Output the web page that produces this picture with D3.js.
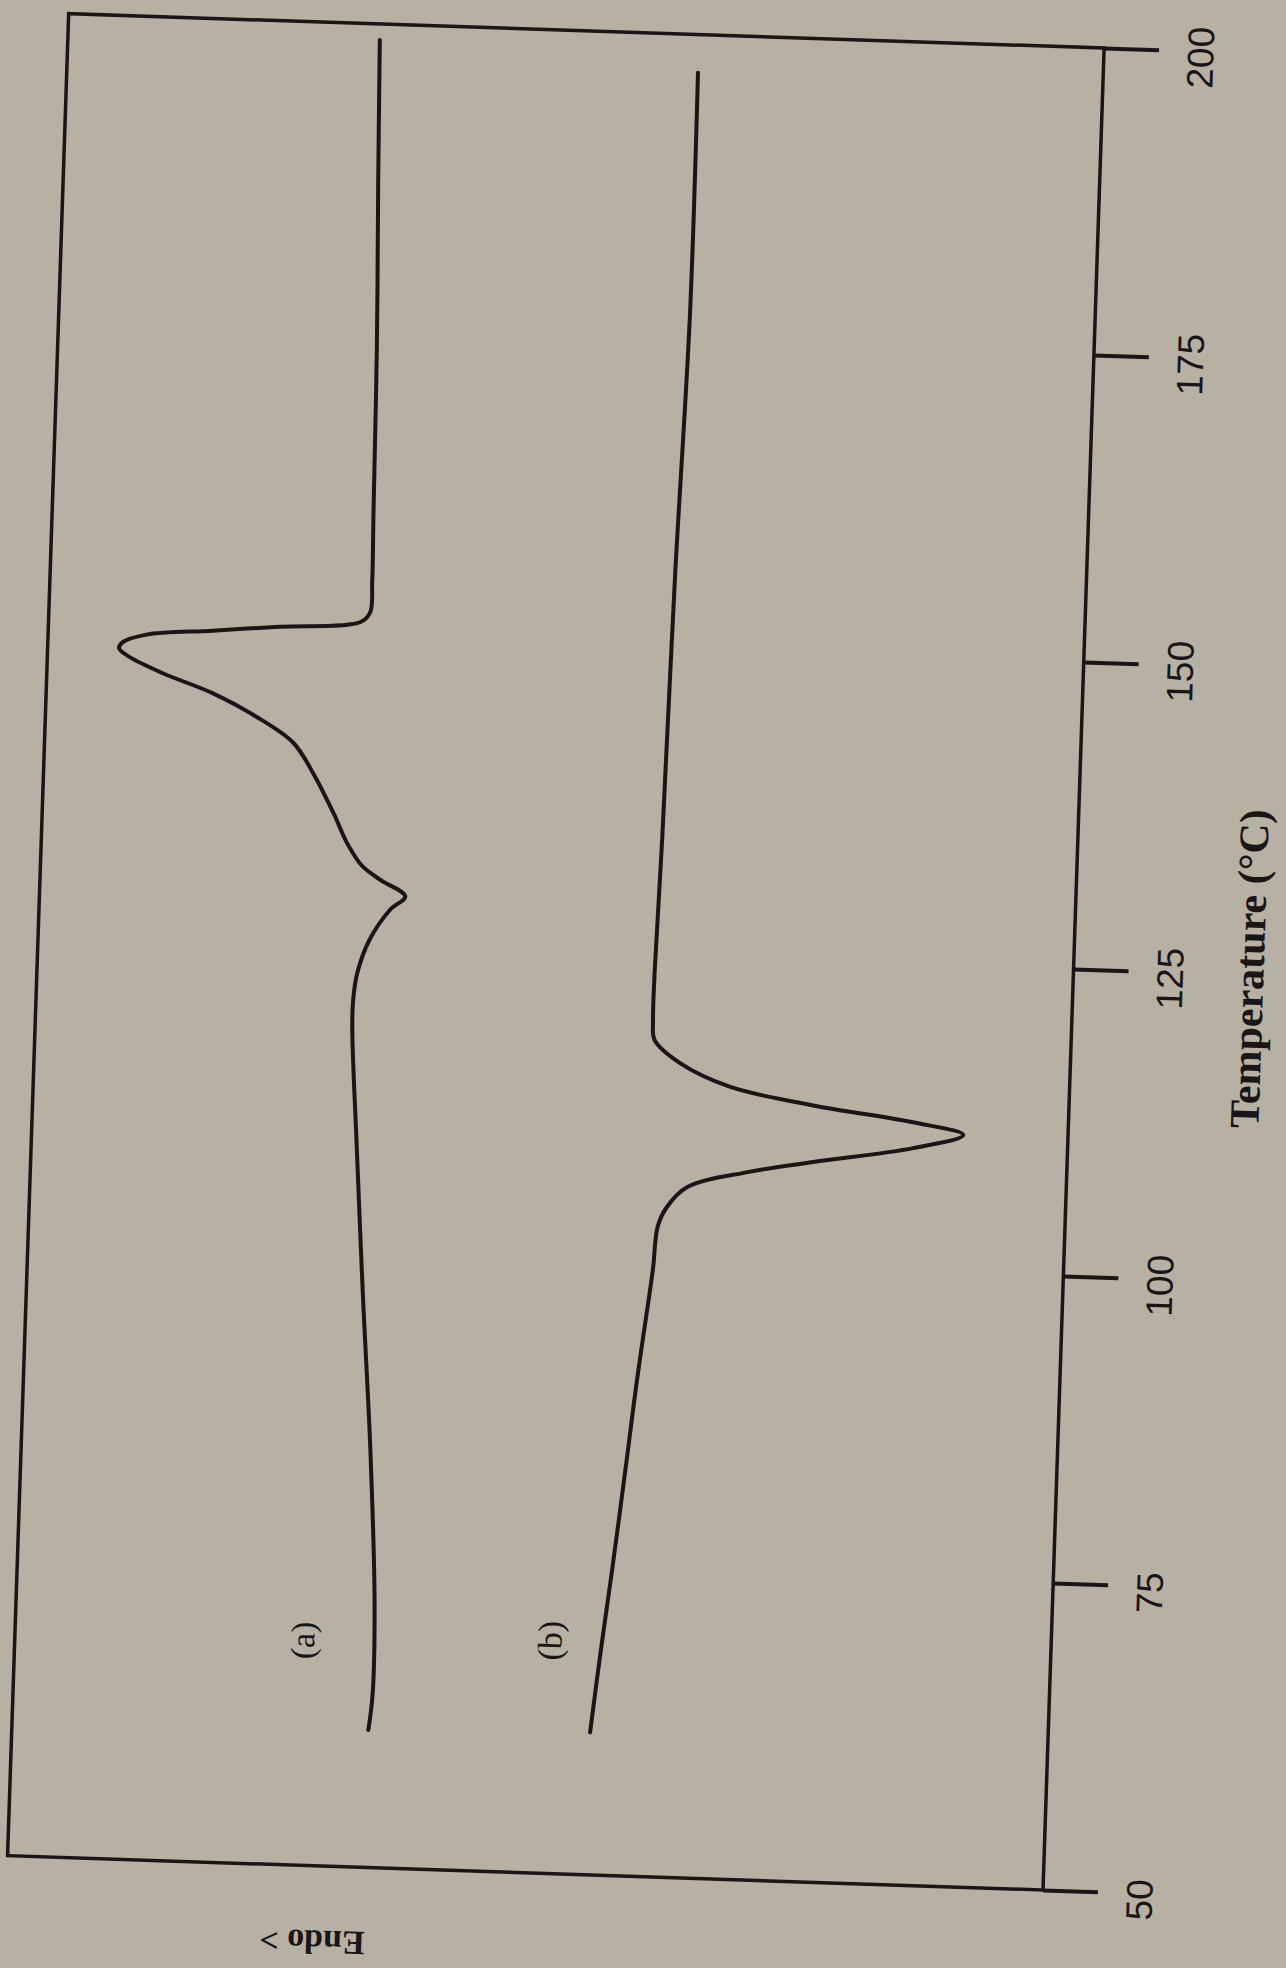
<!DOCTYPE html>
<html>
<head>
<meta charset="utf-8">
<script src="https://cdn.jsdelivr.net/npm/d3@7"></script>
<style>
  body { margin: 0; background: #b6b1a3; }
  svg { display: block; }
</style>
</head>
<body>
<svg id="dsc"></svg>
<script>
// temperature ticks (°C)
const tempTicks = [50, 75, 100, 125, 150, 175, 200];

// curve (a): temperature and heat flow (arbitrary units, endo to the left)
const tempA = [61.2, 64.1, 71.5, 84.0, 96.4, 108.8, 118.3, 120.5, 122.7, 125.5, 128.0, 129.1,
  130.4, 131.5, 133.3, 135.7, 138.9, 141.3, 143.3, 145.1, 146.6, 147.8, 148.5, 149.0, 149.7,
  150.2, 150.7, 151.3, 152.1, 154.7, 160.4, 173.7, 187.1, 198.7];
const heatA = [65.6, 65.3, 65.4, 66.3, 67.5, 68.6, 69.4, 69.4, 69.1, 68.0, 66.1, 64.7,
  67.2, 69.0, 70.5, 71.9, 74.0, 76.0, 79.6, 83.9, 88.8, 92.0, 93.1, 92.8, 90.5,
  84.1, 77.7, 69.9, 69.0, 68.9, 69.0, 69.2, 69.6, 69.9];

// curve (b)
const tempB = [61.6, 68.5, 74.8, 84.2, 90.4, 97.2, 99.6, 102.9, 104.5, 106.2, 107.6, 108.6,
  110.0, 111.2, 112.1, 113.2, 114.5, 116.3, 118.1, 119.6, 123.8, 134.5, 155.9, 177.3, 196.9];
const heatB = [44.2, 43.4, 42.6, 41.5, 40.8, 39.9, 39.6, 39.3, 38.5, 36.6, 30.8, 24.5,
  14.9, 10.1, 15.0, 24.7, 32.8, 37.7, 40.2, 40.4, 40.4, 40.1, 39.7, 39.1, 39.1];

const curveLabels = [
  { name: "(a)", x: 295, y: 1665 },
  { name: "(b)", x: 542, y: 1657 }
];

const W = 1286, H = 1968;
const axisX = 1043, y50 = 1890, axisLen = 1843, frameW = 1036;
const ink = "#1a1516";

const svg = d3.select("#dsc").attr("width", W).attr("height", H);
svg.append("rect").attr("width", W).attr("height", H).attr("fill", "#b6b1a3");

// whole figure is turned 90° and a little skewed on the scan
const g = svg.append("g").attr("transform", `rotate(1.9, ${axisX}, ${y50})`);

const yScale = d3.scaleLinear().domain([50, 200]).range([y50, y50 - axisLen]);
const xScale = d3.scaleLinear().domain([0, 100]).range([axisX, axisX - frameW]);

// frame
g.append("rect")
  .attr("x", xScale(100))
  .attr("y", yScale(200))
  .attr("width", xScale(0) - xScale(100))
  .attr("height", yScale(50) - yScale(200))
  .attr("fill", "none")
  .attr("stroke", ink)
  .attr("stroke-width", 3.5);

// temperature axis, ticks pointing outwards
const yAxis = g.append("g")
  .attr("transform", `translate(${axisX},0)`)
  .call(d3.axisRight(yScale).tickValues(tempTicks).tickSize(55).tickSizeOuter(0).tickPadding(0));

yAxis.select(".domain").remove();
yAxis.selectAll(".tick line").attr("stroke", ink).attr("stroke-width", 4);
yAxis.selectAll(".tick text")
  .attr("x", null).attr("dy", null)
  .attr("transform", "translate(97,6) rotate(-90)")
  .attr("text-anchor", "middle")
  .attr("dominant-baseline", "central")
  .attr("fill", ink)
  .style("font-family", "'Liberation Sans', Arial, sans-serif")
  .style("font-size", "37px");

// axis title
g.append("text")
  .attr("transform", `translate(${axisX + 176},${yScale(125.5)}) rotate(-90)`)
  .attr("text-anchor", "middle")
  .attr("dominant-baseline", "central")
  .attr("fill", ink)
  .style("font-family", "'Liberation Serif', 'Times New Roman', serif")
  .style("font-weight", "bold")
  .style("font-size", "42px")
  .text("Temperature (°C)");

g.append("text")
  .attr("transform", `translate(314,1966) rotate(180)`)
  .attr("text-anchor", "middle")
  .attr("dominant-baseline", "central")
  .attr("fill", ink)
  .style("font-family", "'Liberation Serif', 'Times New Roman', serif")
  .style("font-weight", "bold")
  .style("font-size", "34px")
  .text("Endo >");

// curves
const line = d3.line()
  .x(d => xScale(d.heat))
  .y(d => yScale(d.temp))
  .curve(d3.curveCatmullRom.alpha(0.5));

const series = [
  tempA.map((t, i) => ({ temp: t, heat: heatA[i] })),
  tempB.map((t, i) => ({ temp: t, heat: heatB[i] }))
];

g.selectAll(".curve")
  .data(series)
  .join("path")
  .attr("class", "curve")
  .attr("d", line)
  .attr("fill", "none")
  .attr("stroke", ink)
  .attr("stroke-width", 4)
  .attr("stroke-linejoin", "round")
  .attr("stroke-linecap", "round");

g.selectAll(".clabel")
  .data(curveLabels)
  .join("text")
  .attr("class", "clabel")
  .attr("transform", d => `translate(${d.x},${d.y}) rotate(-90)`)
  .attr("text-anchor", "middle")
  .attr("dominant-baseline", "central")
  .attr("fill", ink)
  .style("font-family", "'Liberation Serif', 'Times New Roman', serif")
  .style("font-size", "34px")
  .text(d => d.name);
</script>
</body>
</html>
